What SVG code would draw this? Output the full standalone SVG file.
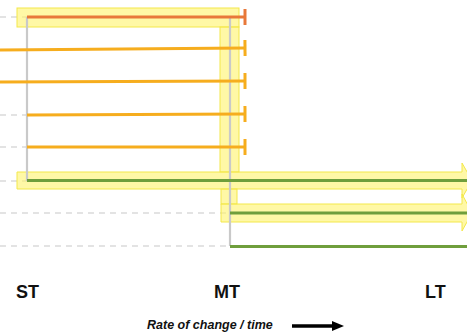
<svg xmlns="http://www.w3.org/2000/svg" width="467" height="332" viewBox="0 0 467 332">
<style>
.dash{stroke:#c8c8c8;stroke-width:1.2;stroke-dasharray:6 5;fill:none}
.vgray{stroke:#c9c9c9;stroke-width:2.2;fill:none}
.hl{fill:#fff36b;fill-opacity:0.6;stroke:#f3e84a;stroke-width:1}
.org{stroke:#f6ad1e;stroke-width:3;fill:none}
.red{stroke:#e8783a;stroke-width:3;fill:none}
.grn{stroke:#6f9e3c;stroke-width:3;fill:none}
.lbl{font-family:"Liberation Sans",Arial,sans-serif;font-weight:bold;fill:#111}
</style>
<defs>
<marker id="tbarO" markerWidth="4" markerHeight="16" refX="2" refY="8" markerUnits="userSpaceOnUse" orient="auto"><line x1="2" y1="0" x2="2" y2="16" stroke="#f6ad1e" stroke-width="3"/></marker>
<marker id="tbarR" markerWidth="4" markerHeight="16" refX="2" refY="8" markerUnits="userSpaceOnUse" orient="auto"><line x1="2" y1="0" x2="2" y2="16" stroke="#e8783a" stroke-width="3"/></marker>
<marker id="blk" markerWidth="12" markerHeight="10" refX="2" refY="5" markerUnits="userSpaceOnUse" orient="auto"><path d="M0,0 L12,5 L0,10 Z" fill="#000"/></marker>
</defs>
<g id="gridlines">
<line class="dash" x1="0" y1="17" x2="27" y2="17"/>
<line class="dash" x1="0" y1="115" x2="27" y2="115"/>
<line class="dash" x1="0" y1="147" x2="27" y2="147"/>
<line class="dash" x1="0" y1="181" x2="27" y2="181"/>
<line class="dash" x1="0" y1="213" x2="230" y2="213"/>
<line class="dash" x1="0" y1="246" x2="230" y2="246"/>
</g>
<g id="highlights">
<rect class="hl" x="17" y="8" width="222" height="19"/>
<rect class="hl" x="220" y="27" width="19" height="145"/>
<path class="hl" d="M17,172 H462 V163 L472,180.5 L462,198 V189 H17 Z"/>
<rect class="hl" x="221" y="189" width="16" height="15"/>
<path class="hl" d="M221,204 H462 V194 L472,213 L462,231 V222 H221 Z"/>
</g>
<g id="connectors">
<line class="vgray" x1="27" y1="17" x2="27" y2="181"/>
<line class="vgray" x1="230" y1="17" x2="230" y2="246"/>
<line class="red" x1="27" y1="17" x2="245" y2="17" marker-end="url(#tbarR)"/>
<line class="org" x1="0" y1="50" x2="245" y2="48" marker-end="url(#tbarO)"/>
<line class="org" x1="0" y1="82" x2="245" y2="81" marker-end="url(#tbarO)"/>
<line class="org" x1="27" y1="115" x2="245" y2="114" marker-end="url(#tbarO)"/>
<line class="org" x1="27" y1="147" x2="245" y2="147" marker-end="url(#tbarO)"/>
<line class="grn" x1="27" y1="180.5" x2="467" y2="180.5"/>
<line class="grn" x1="230" y1="213" x2="467" y2="213"/>
<line class="grn" x1="230" y1="246.5" x2="467" y2="246.5"/>
<line x1="292" y1="326" x2="334" y2="326" stroke="#000" stroke-width="3.5" marker-end="url(#blk)"/>
</g>
<g id="labels">
<text class="lbl" x="16" y="298" font-size="18">ST</text>
<text class="lbl" x="214" y="298" font-size="18">MT</text>
<text class="lbl" x="425" y="298" font-size="18">LT</text>
<text class="lbl" x="147" y="329" font-size="12.5" font-style="italic">Rate of change / time</text>
</g>
</svg>
